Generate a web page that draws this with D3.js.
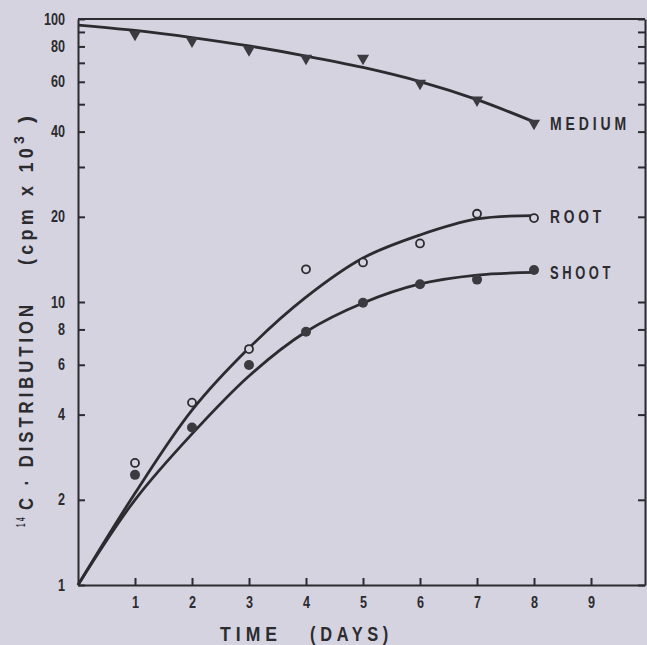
<!DOCTYPE html>
<html lang="en">
<head>
<meta charset="UTF-8">
<title>14C distribution</title>
<script src="https://d3js.org/d3.v7.min.js"></script>
<style>
    html, body {
        margin: 0;
        padding: 0;
        background: #d5d3df;
    }
    svg text {
        font-family: "Liberation Sans", Arial, sans-serif;
        fill: #2b2b30;
    }
    .tick text {
        font-size: 16px;
        font-weight: bold;
    }
    .domain, .tick line {
        stroke: #2b2b30;
        stroke-width: 2;
    }
    .fit {
        fill: none;
        stroke: #2b2b30;
        stroke-width: 2.8;
    }
</style>
</head>
<body>
<div id="chart"></div>
<script>
// measured points (days 1..8)
const days = [1, 2, 3, 4, 5, 6, 7, 8];
const medium = [88.3, 83.6, 77.9, 72.7, 72.7, 59.3, 51.7, 42.8];
const root = [2.70, 4.41, 6.82, 13.05, 13.8, 16.1, 20.5, 19.8];
const shoot = [2.45, 3.60, 5.99, 7.85, 9.94, 11.55, 12.0, 12.98];

// hand-fitted curves
const fitDays = [0, 1, 2, 3, 4, 5, 6, 7, 8];
const mediumFit = [95.2, 91.1, 86.0, 80.3, 74.0, 67.4, 60.1, 51.9, 43.3];
const rootFit = [1, 2.11, 4.15, 6.88, 10.4, 14.3, 17.25, 19.65, 20.2];
const shootFit = [1, 2.0, 3.42, 5.48, 7.85, 9.92, 11.58, 12.45, 12.72];

// axis ticks
const xTicks = [1, 2, 3, 4, 5, 6, 7, 8, 9];
const yTicks = [1, 2, 4, 6, 8, 10, 20, 30, 40, 50, 60, 70, 80, 90, 100];
const yLabels = [1, 2, 4, 6, 8, 10, 20, 40, 60, 80, 100];

const W = 647, H = 645;
const margin = { top: 19, right: 2, bottom: 60, left: 78 };
const ink = "#2b2b30";
const bg = "#d5d3df";

const svg = d3.select("#chart").append("svg")
    .attr("width", W)
    .attr("height", H);

const x = d3.scaleLinear()
    .domain([0, 9.947])
    .range([margin.left, W - margin.right]);

const y = d3.scaleLog()
    .domain([1, 100])
    .range([H - margin.bottom, margin.top]);

const fmt = d => yLabels.includes(d) ? d : "";

// squeeze text to look like the condensed face of the original
function condense(sel, perChar) {
    sel.each(function() {
        const n = this.textContent.length;
        if (n > 0) {
            d3.select(this)
                .attr("textLength", n * perChar)
                .attr("lengthAdjust", "spacingAndGlyphs");
        }
    });
}

// left axis
svg.append("g")
    .attr("transform", `translate(${margin.left},0)`)
    .call(d3.axisLeft(y).tickValues(yTicks).tickFormat(fmt).tickSize(-7).tickPadding(13).tickSizeOuter(0))
    .call(g => condense(g.selectAll(".tick text"), 7));

// right axis (ticks inward, no labels)
svg.append("g")
    .attr("transform", `translate(${W - margin.right},0)`)
    .call(d3.axisRight(y).tickValues(yTicks).tickFormat("").tickSize(-7).tickSizeOuter(0));

// bottom axis
svg.append("g")
    .attr("transform", `translate(0,${H - margin.bottom})`)
    .call(d3.axisBottom(x).tickValues(xTicks).tickFormat(d3.format("d")).tickSize(-7).tickPadding(12).tickSizeOuter(0))
    .call(g => condense(g.selectAll(".tick text"), 7));

// top border
svg.append("line")
    .attr("x1", x.range()[0]).attr("x2", x.range()[1])
    .attr("y1", y(100)).attr("y2", y(100))
    .attr("stroke", ink).attr("stroke-width", 2);

const line = d3.line()
    .x(d => x(d[0]))
    .y(d => y(d[1]))
    .curve(d3.curveCatmullRom.alpha(0.5));

[mediumFit, rootFit, shootFit].forEach(fit => {
    svg.append("path")
        .attr("class", "fit")
        .attr("d", line(fitDays.map((d, i) => [d, fit[i]])));
});

// markers
const tri = d3.symbol().type(d3.symbolTriangle).size(64);
svg.append("g").selectAll("path")
    .data(days.map((d, i) => [d, medium[i]]))
    .join("path")
    .attr("d", tri)
    .attr("transform", d => `translate(${x(d[0])},${y(d[1])}) rotate(180)`)
    .attr("fill", "#3a3a40");

svg.append("g").selectAll("circle")
    .data(days.map((d, i) => [d, root[i]]))
    .join("circle")
    .attr("cx", d => x(d[0]))
    .attr("cy", d => y(d[1]))
    .attr("r", 4)
    .attr("fill", bg)
    .attr("stroke", ink)
    .attr("stroke-width", 1.8);

svg.append("g").selectAll("circle")
    .data(days.map((d, i) => [d, shoot[i]]))
    .join("circle")
    .attr("cx", d => x(d[0]))
    .attr("cy", d => y(d[1]))
    .attr("r", 5)
    .attr("fill", "#3a3a40");

// series labels
const seriesLabels = [
    { text: "MEDIUM", v: medium[7], w: 80 },
    { text: "ROOT", v: rootFit[8], w: 55 },
    { text: "SHOOT", v: shootFit[8], w: 64 }
];
svg.append("g").selectAll("text")
    .data(seriesLabels)
    .join("text")
    .attr("x", x(8) + 16)
    .attr("y", d => y(d.v) + 7)
    .attr("font-size", 18)
    .attr("font-weight", "bold")
    .attr("letter-spacing", 5)
    .attr("textLength", d => d.w)
    .attr("lengthAdjust", "spacingAndGlyphs")
    .text(d => d.text);

// x axis title
const xt = [
    { t: "TIME", x: 220, len: 62 },
    { t: "(DAYS)", x: 310, len: 83 }
];
svg.append("g").selectAll("text")
    .data(xt)
    .join("text")
    .attr("x", d => d.x)
    .attr("y", 641)
    .attr("font-size", 21)
    .attr("font-weight", "bold")
    .attr("letter-spacing", 6)
    .attr("textLength", d => d.len)
    .attr("lengthAdjust", "spacingAndGlyphs")
    .text(d => d.t);

// y axis title, rotated; local x runs upward from screen y=527
const yt = svg.append("g")
    .attr("transform", "translate(33,527) rotate(-90)");
const yParts = [
    { t: "14", x: 0, y: -8, size: 12, len: 12 },
    { t: "C · DISTRIBUTION", x: 17, y: 0, size: 21, len: 209 },
    { t: "(cpm x 10", x: 262, y: 0, size: 21, len: 121 },
    { t: "3", x: 383, y: -9, size: 14, len: 0 },
    { t: ")", x: 404, y: 0, size: 21, len: 0 }
];
yt.selectAll("text")
    .data(yParts)
    .join("text")
    .attr("x", d => d.x)
    .attr("y", d => d.y)
    .attr("font-size", d => d.size)
    .attr("font-weight", "bold")
    .attr("letter-spacing", d => d.len ? 5 : null)
    .attr("textLength", d => d.len || null)
    .attr("lengthAdjust", "spacingAndGlyphs")
    .text(d => d.t);
</script>
</body>
</html>
